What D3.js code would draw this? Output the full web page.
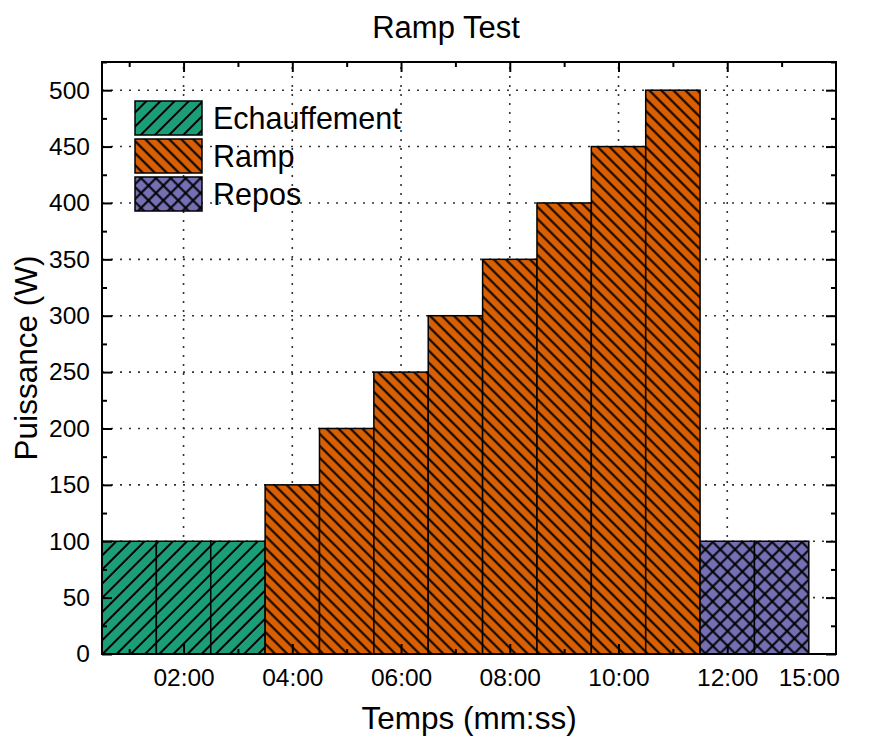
<!DOCTYPE html>
<html><head><meta charset="utf-8">
<script src="https://cdn.jsdelivr.net/npm/d3@7"></script>
<style>body{margin:0;background:#fff;} svg{display:block;font-family:"Liberation Sans",Arial,sans-serif;}</style>
</head><body>
<svg id="c" width="869" height="740"></svg>
<script>
const minutes = [1,2,3,4,5,6,7,8,9,10,11,12,13];
const power   = [100,100,100,150,200,250,300,350,400,450,500,100,100];
const phase   = ["Echauffement","Echauffement","Echauffement","Ramp","Ramp","Ramp","Ramp","Ramp","Ramp","Ramp","Ramp","Repos","Repos"];
const seriesNames = ["Echauffement","Ramp","Repos"];
const seriesColors = ["#1b9e77","#d95f02","#7570b3"];
const xTickValues = [2,4,6,8,10,12,13.5];
const xTickLabels = ["02:00","04:00","06:00","08:00","10:00","12:00","15:00"];
const xMinorTicks = [1,3,5,7,9,11,13];
const yTickValues = [0,50,100,150,200,250,300,350,400,450,500];
const yMinorTicks = [25,75,125,175,225,275,325,375,425,475,525];

const svg = d3.select("#c");
const L=102,R=836,T=62,B=654;
const x = d3.scaleLinear().domain([0.5,14.0]).range([L,R]);
const y = d3.scaleLinear().domain([0,525]).range([B,T]);

// patterns
const defs = svg.append("defs");
function hatch(id,color,w,angle,cross){
  const p = defs.append("pattern").attr("id",id).attr("patternUnits","userSpaceOnUse")
    .attr("width",w).attr("height",w).attr("patternTransform",`rotate(${angle})`);
  p.append("rect").attr("width",w).attr("height",w).attr("fill",color);
  p.append("line").attr("x1",w/2).attr("x2",w/2).attr("y1",-1).attr("y2",w+1).attr("stroke","#000").attr("stroke-width",2);
  if(cross) p.append("line").attr("y1",w/2).attr("y2",w/2).attr("x1",-1).attr("x2",w+1).attr("stroke","#000").attr("stroke-width",2);
}
hatch("p0",seriesColors[0],10,45,false);
hatch("p1",seriesColors[1],8.5,-45,false);
hatch("p2",seriesColors[2],10.5,45,true);
const pat = n => `url(#p${seriesNames.indexOf(n)})`;

// gridlines
const grid = svg.append("g").attr("stroke","#333").attr("stroke-width",1.6).attr("stroke-dasharray","2,7");
grid.selectAll(".gx").data(xTickValues.filter(v=>v<=12)).join("line")
  .attr("x1",d=>x(d)).attr("x2",d=>x(d)).attr("y1",B).attr("y2",T);
grid.selectAll(".gy").data(yTickValues.filter(v=>v>0)).join("line")
  .attr("y1",d=>y(d)).attr("y2",d=>y(d)).attr("x1",L).attr("x2",R);

// bars
svg.append("g").selectAll("rect").data(minutes).join("rect")
  .attr("x",(d)=>x(d-0.5)).attr("width",(d)=>x(d+0.5)-x(d-0.5))
  .attr("y",(d,i)=>y(power[i])).attr("height",(d,i)=>B-y(power[i]))
  .attr("fill",(d,i)=>pat(phase[i])).attr("stroke","#000").attr("stroke-width",1.5);

// axes with inward ticks
function axisG(axis, tr){ return svg.append("g").attr("transform",tr).call(axis).call(g=>g.select(".domain").remove()); }
const fmt = d=>xTickLabels[xTickValues.indexOf(d)];
const bx = axisG(d3.axisBottom(x).tickValues(xTickValues).tickFormat(fmt).tickSizeInner(-10).tickPadding(15),`translate(0,${B})`);
bx.selectAll(".tick").filter(d=>d===13.5).select("line").remove();
axisG(d3.axisBottom(x).tickValues(xMinorTicks).tickFormat("").tickSizeInner(-5),`translate(0,${B})`);
axisG(d3.axisTop(x).tickValues(xTickValues.filter(v=>v<=12)).tickFormat("").tickSizeInner(-10),`translate(0,${T})`);
axisG(d3.axisTop(x).tickValues(xMinorTicks).tickFormat("").tickSizeInner(-5),`translate(0,${T})`);
axisG(d3.axisLeft(y).tickValues(yTickValues).tickSizeInner(-10).tickPadding(12),`translate(${L},0)`);
axisG(d3.axisLeft(y).tickValues(yMinorTicks).tickFormat("").tickSizeInner(-5),`translate(${L},0)`);
axisG(d3.axisRight(y).tickValues(yTickValues).tickFormat("").tickSizeInner(-10),`translate(${R},0)`);
axisG(d3.axisRight(y).tickValues(yMinorTicks).tickFormat("").tickSizeInner(-5),`translate(${R},0)`);
svg.selectAll(".tick line").attr("stroke","#000").attr("stroke-width",2);
svg.selectAll(".tick text").attr("font-size",24.5).attr("fill","#000").attr("font-family","Liberation Sans, Arial, sans-serif");

// frame
svg.append("rect").attr("x",L).attr("y",T).attr("width",R-L).attr("height",B-T)
  .attr("fill","none").attr("stroke","#000").attr("stroke-width",2);

// titles
svg.append("text").attr("x",446).attr("y",38).attr("text-anchor","middle").attr("font-size",31).text("Ramp Test");
svg.append("text").attr("x",(L+R)/2).attr("y",729).attr("text-anchor","middle").attr("font-size",31.5).text("Temps (mm:ss)");
svg.append("text").attr("transform",`translate(37,${(T+B)/2}) rotate(-90)`).attr("text-anchor","middle").attr("font-size",31.5).text("Puissance (W)");

// legend
const lg = svg.append("g");
seriesNames.forEach((n,i)=>{
  lg.append("rect").attr("x",135).attr("y",101+i*38).attr("width",67).attr("height",34)
    .attr("fill",pat(n)).attr("stroke","#000").attr("stroke-width",1.5);
  lg.append("text").attr("x",213).attr("y",129+i*38).attr("font-size",30.5).text(n);
});
</script>
</body></html>
